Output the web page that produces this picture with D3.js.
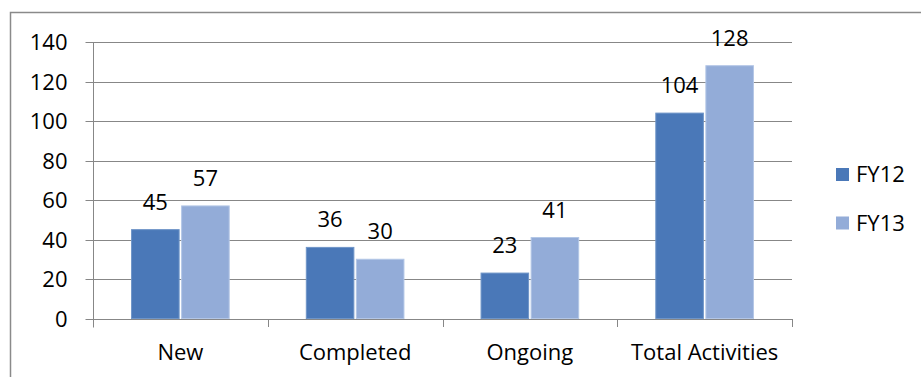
<!DOCTYPE html>
<html>
<head>
<meta charset="utf-8">
<script src="https://cdn.jsdelivr.net/npm/d3@7"></script>
<style>
  html, body { margin: 0; padding: 0; background: #fff; }
  svg { display: block; }
  text { font-family: "Open Sans", Lato, sans-serif; fill: #000; }
</style>
</head>
<body>
<svg id="chart" width="921" height="377"></svg>
<script>
// Activity counts per category, two fiscal years
const categories = ["New", "Completed", "Ongoing", "Total Activities"];
const seriesNames = ["FY12", "FY13"];
const fy12 = [45, 36, 23, 104];
const fy13 = [57, 30, 41, 128];
const yTicks = [0, 20, 40, 60, 80, 100, 120, 140];
const colors = ["#4a78b8", "#93acd8"];

const values = [fy12, fy13];
const svg = d3.select("#chart");

const plot = { left: 93, right: 792, top: 42, bottom: 318.5 };
const fontSize = 22;
const fontFamily = "'Open Sans', Lato, sans-serif";

// outer chart frame (top and left edges show inside the canvas)
svg.append("rect")
  .attr("x", 10.5).attr("y", 12.5)
  .attr("width", 930).attr("height", 380)
  .attr("fill", "none").attr("stroke", "#8a8a8a").attr("stroke-width", 1.5);

const x = d3.scaleBand().domain(categories).range([plot.left, plot.right]).padding(0);
const xInner = d3.scaleBand().domain(seriesNames).range([0, x.bandwidth()])
  .paddingInner(0.05).paddingOuter(0.77);
const y = d3.scaleLinear().domain([0, 140]).range([plot.bottom, plot.top]);

// horizontal gridlines
svg.append("g").selectAll("line").data(yTicks.filter(d => d > 0)).join("line")
  .attr("x1", plot.left).attr("x2", plot.right)
  .attr("y1", d => Math.round(y(d)) + 0.5).attr("y2", d => Math.round(y(d)) + 0.5)
  .attr("stroke", "#878787").attr("stroke-width", 1);

// y axis
const yAxis = d3.axisLeft(y).tickValues(yTicks).tickSize(8).tickPadding(18);
const gy = svg.append("g").attr("transform", `translate(${plot.left + 0.5},0.5)`).call(yAxis);
gy.select(".domain").attr("stroke", "#878787").attr("d", `M0,${Math.round(plot.bottom) + 8}V${plot.top - 0.5}`);
gy.selectAll(".tick line").attr("stroke", "#878787");
gy.selectAll(".tick").attr("transform", d => `translate(0,${Math.round(y(d))})`);
gy.selectAll(".tick text").attr("font-size", fontSize).attr("font-family", fontFamily)
  .attr("fill", "#000").attr("dy", "0.36em");

// bars
const groups = svg.append("g").selectAll("g").data(categories).join("g")
  .attr("transform", d => `translate(${x(d)},0)`);

groups.selectAll("rect").data((c, i) => seriesNames.map((s, k) => ({ s, v: values[k][i], k })))
  .join("rect")
  .attr("x", d => xInner(d.s))
  .attr("y", d => y(d.v))
  .attr("width", xInner.bandwidth())
  .attr("height", d => y(0) - y(d.v))
  .attr("fill", d => colors[d.k])
  .attr("stroke", d => d.k === 0 ? "#6f95c8" : "#b3c6e6")
  .attr("stroke-width", 1);

// value labels
groups.selectAll("text").data((c, i) => seriesNames.map((s, k) => ({ s, v: values[k][i], k })))
  .join("text")
  .attr("x", d => xInner(d.s) + xInner.bandwidth() / 2)
  .attr("y", d => y(d.v) - 20)
  .attr("text-anchor", "middle")
  .attr("font-size", fontSize)
  .text(d => d.v);

// x axis
const xAxis = d3.axisBottom(x).tickSize(0).tickPadding(25);
const gx = svg.append("g").attr("transform", `translate(0,${Math.round(plot.bottom) + 0.5})`).call(xAxis);
gx.select(".domain").attr("stroke", "#878787").attr("d", `M${plot.left},0H${plot.right}`);
gx.selectAll(".tick text").attr("font-size", fontSize).attr("font-family", fontFamily).attr("fill", "#000");
// category separator ticks
svg.append("g").selectAll("line")
  .data(categories.map(c => x(c)).concat([plot.right]))
  .join("line")
  .attr("x1", d => Math.round(d) + 0.5).attr("x2", d => Math.round(d) + 0.5)
  .attr("y1", Math.round(plot.bottom)).attr("y2", Math.round(plot.bottom) + 8)
  .attr("stroke", "#878787");

// legend
const legend = svg.append("g").selectAll("g").data(seriesNames).join("g")
  .attr("transform", (d, i) => `translate(836,${174.5 + i * 48.5})`);
legend.append("rect")
  .attr("x", 0).attr("y", -6.5).attr("width", 13).attr("height", 13)
  .attr("fill", (d, i) => colors[i]);
legend.append("text")
  .attr("x", 20).attr("y", 0).attr("dy", "0.36em")
  .attr("font-size", fontSize)
  .text(d => d);
</script>
</body>
</html>
